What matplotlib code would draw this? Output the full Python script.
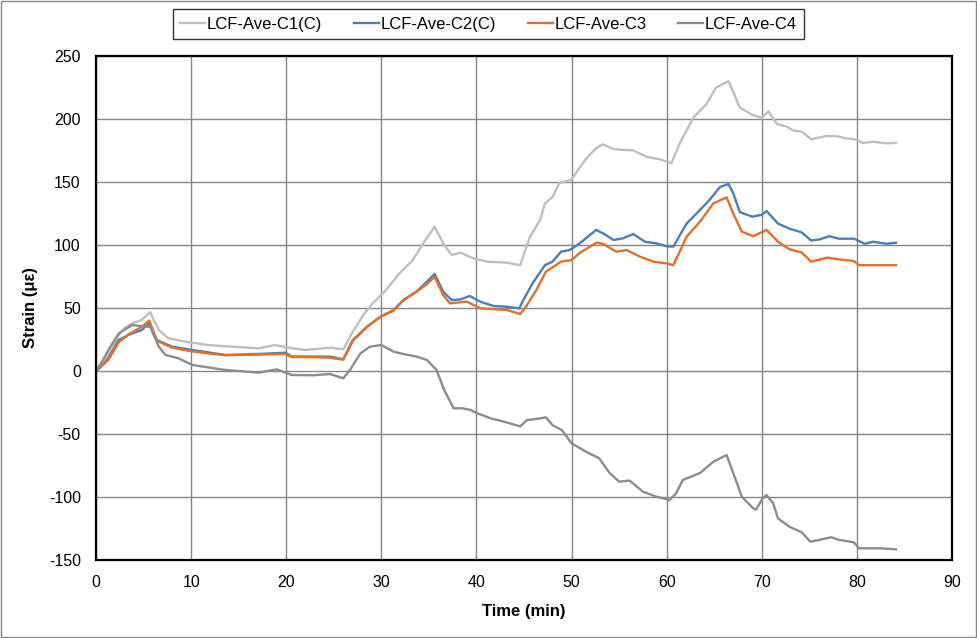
import matplotlib
matplotlib.use('Agg')
import matplotlib.pyplot as plt
from matplotlib.patches import Rectangle

plt.rcParams['font.family'] = ['Liberation Sans', 'DejaVu Sans']
plt.rcParams['axes.unicode_minus'] = False

# series (time in min, strain in micro-strain)
t1 = [0, 0.6, 1.3, 2.0, 2.4, 3.0, 3.8, 4.8, 5.3, 5.7, 6.1, 6.6, 7.6, 9.4, 11.8, 14.3, 17.1, 18.8,
      20.6, 22.1, 24.6, 26.0, 26.9, 28.1, 29.1, 30.5, 31.9, 33.3, 34.4, 35.6, 36.5, 37.4, 38.3,
      39.7, 41.1, 43.2, 44.6, 45.6, 46.7, 47.2, 48.0, 48.7, 50.0, 50.9, 51.6, 52.6, 53.3, 54.4,
      56.5, 57.9, 59.3, 60.5, 61.4, 62.8, 64.2, 65.2, 66.5, 66.8, 67.7, 69.1, 70.0, 70.7, 71.6,
      72.6, 73.3, 74.2, 75.2, 76.8, 77.8, 78.9, 79.7, 80.6, 81.7, 83.1, 84.1]
v1 = [0, 5, 12.7, 22, 28.6, 34, 37.8, 40.5, 44, 46.6, 40, 32.5, 26, 23.3, 20.6, 19.3, 18, 20.6,
      18, 16.7, 18.5, 17.2, 29.9, 44.4, 53.7, 64.3, 77.5, 88, 101.3, 114.5, 101.3, 92, 93.9,
      89.4, 86.8, 86, 84, 106, 120, 133, 138, 149, 152, 162, 169, 177, 180, 176,
      175, 170, 168, 165, 181, 201, 212, 225, 230, 225, 209, 203, 201, 206, 196,
      194, 191, 190, 184, 186.5, 186.5, 184.6, 184, 181, 182, 180.7, 181]

t2 = [0, 0.6, 1.3, 2.4, 3.4, 4.8, 5.6, 6.4, 8.0, 10.1, 13.6, 17.1, 19.9, 20.6, 22.9, 24.6, 26.0,
      27.0, 28.5, 29.9, 31.3, 32.3, 33.7, 34.8, 35.6, 36.5, 37.4, 38.3, 39.3, 40.4, 41.8, 43.2,
      44.5, 44.9, 45.9, 47.2, 48.0, 48.9, 49.8, 50.8, 52.6, 53.6, 54.4, 55.4, 56.5, 57.7, 58.9,
      60.0, 60.7, 61.4, 62.1, 63.5, 64.5, 65.6, 66.5, 67.0, 67.7, 69.0, 70.0, 70.5, 71.7, 72.9,
      74.2, 75.2, 76.1, 77.1, 78.1, 79.7, 80.8, 81.7, 83.1, 84.1]
v2 = [0, 4, 10, 24.6, 28.6, 32.5, 37.8, 24.6, 19.3, 16.7, 12.7, 13.5, 14.5, 11.5, 11.4, 11.4, 9.3,
      24.6, 35.2, 43.1, 48.4, 56.3, 63, 70.9, 77, 63, 56.3, 56.8, 59.5, 55, 51.6, 51,
      49.7, 56, 69.6, 84, 86.8, 94.7, 96, 101, 112, 108, 104, 105.3, 108.7, 102.6, 101.3,
      99, 98.7, 108, 117, 127.8, 135.7, 146, 148.4, 141, 126, 122.5, 124, 127, 117, 113,
      110, 103.5, 104.5, 107, 105, 105, 101, 102.6, 101, 101.8]

t3 = [0, 0.6, 1.3, 2.4, 3.4, 4.8, 5.6, 6.4, 8.0, 10.1, 13.6, 17.1, 19.9, 20.6, 22.9, 24.6, 26.0,
      27.0, 28.5, 29.9, 31.3, 32.3, 33.7, 34.8, 35.6, 36.5, 37.2, 39.0, 40.4, 43.2, 44.6, 45.2,
      46.3, 47.3, 48.9, 50.0, 50.8, 52.6, 53.3, 54.7, 55.8, 57.2, 58.6, 60.0, 60.7, 62.1, 63.5,
      64.9, 66.3, 67.0, 67.9, 69.1, 70.5, 71.7, 72.9, 74.2, 75.2, 76.9, 78.1, 79.7, 80.2, 84.1]
v3 = [0, 4, 9, 23, 29, 35, 40, 24, 18.5, 15.5, 12.5, 13, 13.5, 11, 11, 10.5, 9,
      24, 35, 43, 48, 56, 63, 69, 74.8, 60.3, 53.7, 55, 49.7, 48.4, 45.2, 51,
      64.3, 78.8, 86.8, 88, 93.4, 101.8, 101, 94.7, 96, 90.7, 86.8, 85.4, 84, 106.6, 118.5,
      133, 137.8, 125, 110.6, 107, 112, 102.6, 96.6, 94, 86.8, 90, 88.6, 87.3, 84, 84]

t4 = [0, 0.6, 1.3, 2.4, 3.8, 5.2, 5.7, 6.6, 7.3, 8.7, 10.1, 13.6, 17.1, 19.0, 20.6, 22.9, 24.6,
      26.0, 26.7, 27.8, 28.8, 30.0, 31.3, 32.3, 33.7, 34.8, 35.8, 36.6, 37.6, 38.5, 39.4, 40.1,
      41.5, 42.9, 44.6, 45.3, 46.7, 47.3, 48.0, 49.0, 50.0, 51.5, 52.9, 54.0, 55.0, 56.1, 57.5,
      58.9, 60.3, 61.0, 61.7, 63.5, 64.9, 66.3, 67.0, 67.9, 69.1, 69.4, 70.1, 70.5, 71.2, 71.7,
      72.9, 74.2, 75.1, 76.1, 77.3, 78.1, 79.7, 80.2, 82.3, 84.1]
v4 = [0, 7, 16.7, 29.9, 36.5, 35.2, 35, 19.3, 12.7, 10, 4.8, 0.8, -1.3, 1.3, -3.2, -3.4, -2.4,
      -5.8, 0.8, 14, 19.3, 20.6, 15.3, 13.5, 11.4, 8.7, 0.8, -15, -29.6, -29.6, -31, -33.6,
      -37.6, -40.2, -44, -39, -37.6, -36.8, -43, -47, -57.4, -64, -69.3, -81, -87.8, -87, -95.8,
      -99.7, -102.4, -97, -86.5, -81, -72, -66.7, -81, -99.7, -109, -110, -101, -98.4, -105, -117,
      -123.6, -128, -135.5, -134, -132, -134, -136, -140.7, -140.7, -141.5]

labels = ['LCF-Ave-C1(C)', 'LCF-Ave-C2(C)', 'LCF-Ave-C3', 'LCF-Ave-C4']
colors = ['#BFBFBF', '#4A7EBB', '#E0702A', '#8C8C8C']
xticks = list(range(0, 91, 10))
yticks = list(range(-150, 251, 50))

dpi = 100
fig = plt.figure(figsize=(9.77, 6.38), dpi=dpi)
ax = fig.add_axes([0.0983, 0.1223, 0.8761, 0.7899])

for t, v, lab, c in zip([t1, t2, t3, t4], [v1, v2, v3, v4], labels, colors):
    ax.plot(t, v, color=c, lw=1.7, label=lab)

ax.set_xlim(0, 90)
ax.set_ylim(-150, 250)
ax.set_xticks(xticks)
ax.set_yticks(yticks)
ax.grid(color='#868686', lw=1.0)
ax.set_axisbelow(True)
ax.tick_params(length=0, labelsize=11.5)
ax.tick_params(axis='x', pad=11)
ax.tick_params(axis='y', pad=11)
for s in ax.spines.values():
    s.set_linewidth(1.6)
    s.set_color('black')
ax.set_xlabel('Time (min)', fontsize=12, fontweight='bold', labelpad=10)
ax.set_ylabel('Strain (\u03bc\u03b5)', fontsize=12, fontweight='bold', labelpad=8)

leg = fig.legend(loc='center', bbox_to_anchor=(0.5, 0.962), ncol=4, fontsize=12,
                 frameon=True, fancybox=False, edgecolor='black', handlelength=1.5,
                 handletextpad=0.1, columnspacing=1.9, borderpad=0.45)
leg.get_frame().set_linewidth(1.0)

# outer chart border
fig.patches.append(Rectangle((0.001, 0.001), 0.998, 0.997, transform=fig.transFigure,
                             fill=False, edgecolor='#868686', lw=1.0))

plt.savefig('out.png', dpi=dpi)
